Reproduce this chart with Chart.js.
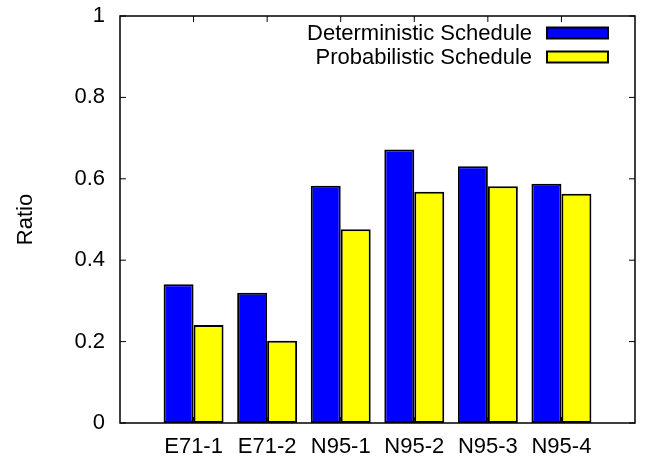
<!DOCTYPE html>
<html>
<head>
<meta charset="utf-8">
<script src="https://cdn.jsdelivr.net/npm/chart.js@4"></script>
<style>
  html, body { margin: 0; padding: 0; background: #fff; }
  #wrap { width: 649px; height: 459px; }
</style>
</head>
<body>
<div id="wrap"><canvas id="chart-1"></canvas></div>
<script>
// empty first/last slots give the margins gnuplot leaves on both sides
const categories = ['', 'E71-1', 'E71-2', 'N95-1', 'N95-2', 'N95-3', 'N95-4', '']
const deterministic = [null, 0.341, 0.320, 0.583, 0.672, 0.631, 0.588, null]
const probabilistic = [null, 0.241, 0.202, 0.476, 0.568, 0.582, 0.563, null]
const seriesNames = ['Deterministic Schedule', 'Probabilistic Schedule']
const yTicks = [0, 0.2, 0.4, 0.6, 0.8, 1]

const FONT = { family: '"Liberation Sans", Arial, sans-serif', size: 22 }

// frame + inward tick marks, like gnuplot's border
const framePlugin = {
  id: 'frame',
  afterDraw (chart) {
    const { ctx, chartArea: a, scales } = chart
    const tick = 6
    ctx.save()
    ctx.strokeStyle = '#000'
    ctx.lineWidth = 1.5
    ctx.strokeRect(a.left, a.top, a.right - a.left, a.bottom - a.top)
    ctx.lineWidth = 1
    ctx.beginPath()
    yTicks.forEach(v => {
      const y = scales.y.getPixelForValue(v)
      ctx.moveTo(a.left, y); ctx.lineTo(a.left + tick, y)
      ctx.moveTo(a.right, y); ctx.lineTo(a.right - tick, y)
    })
    for (let i = 1; i < categories.length - 1; i++) {
      const x = scales.x.getPixelForTick(i)
      ctx.moveTo(x, a.top); ctx.lineTo(x, a.top + tick)
      ctx.moveTo(x, a.bottom); ctx.lineTo(x, a.bottom - tick)
    }
    ctx.stroke()
    ctx.restore()
  }
}

// legend inside the plot, top right, text then swatch
const keyPlugin = {
  id: 'key',
  afterDraw (chart) {
    const { ctx, chartArea: a } = chart
    ctx.save()
    ctx.font = FONT.size + 'px ' + FONT.family
    ctx.textAlign = 'right'
    ctx.textBaseline = 'middle'
    chart.data.datasets.forEach((ds, i) => {
      const cy = a.top + 17 + i * 24
      const bx = a.right - 27 - 61
      ctx.fillStyle = ds.backgroundColor
      ctx.fillRect(bx, cy - 5.5, 61, 11)
      ctx.strokeStyle = '#000'
      ctx.lineWidth = 2
      ctx.strokeRect(bx, cy - 5.5, 61, 11)
      ctx.fillStyle = '#000'
      ctx.fillText(ds.label, bx - 15, cy + 1)
    })
    ctx.restore()
  }
}

new Chart(document.getElementById('chart-1'), {
  type: 'bar',
  data: {
    labels: categories,
    datasets: [
      {
        label: seriesNames[0],
        data: deterministic,
        backgroundColor: '#0000ff',
        borderColor: '#000',
        borderWidth: 2,
        borderSkipped: false
      },
      {
        label: seriesNames[1],
        data: probabilistic,
        backgroundColor: '#ffff00',
        borderColor: '#000',
        borderWidth: 2,
        borderSkipped: false
      }
    ]
  },
  options: {
    responsive: true,
    maintainAspectRatio: false,
    animation: false,
    layout: { padding: { top: 16, right: 14, left: 0, bottom: 0 } },
    datasets: { bar: { categoryPercentage: 0.815, barPercentage: 1 } },
    scales: {
      x: {
        offset: false,
        grid: { display: false, drawTicks: false },
        border: { display: false },
        ticks: { color: '#000', font: FONT, padding: 11, autoSkip: false, maxRotation: 0 },
        afterFit: (scale) => {
          scale.height = 36
          scale.paddingLeft = 0
          scale.paddingRight = 0
        }
      },
      y: {
        min: 0,
        max: 1,
        grid: { display: false, drawTicks: false },
        border: { display: false },
        ticks: {
          stepSize: 0.2,
          color: '#000',
          font: FONT,
          padding: 15,
          callback: (v) => String(Math.round(v * 10) / 10)
        },
        title: {
          display: true,
          text: 'Ratio',
          color: '#000',
          font: FONT,
          padding: { top: 13, bottom: 0 }
        },
        afterFit: (scale) => {
          scale.width = 120
          scale.paddingTop = 0
          scale.paddingBottom = 0
        }
      }
    },
    plugins: {
      legend: { display: false },
      tooltip: { enabled: false }
    }
  },
  plugins: [framePlugin, keyPlugin]
})
</script>
</body>
</html>
